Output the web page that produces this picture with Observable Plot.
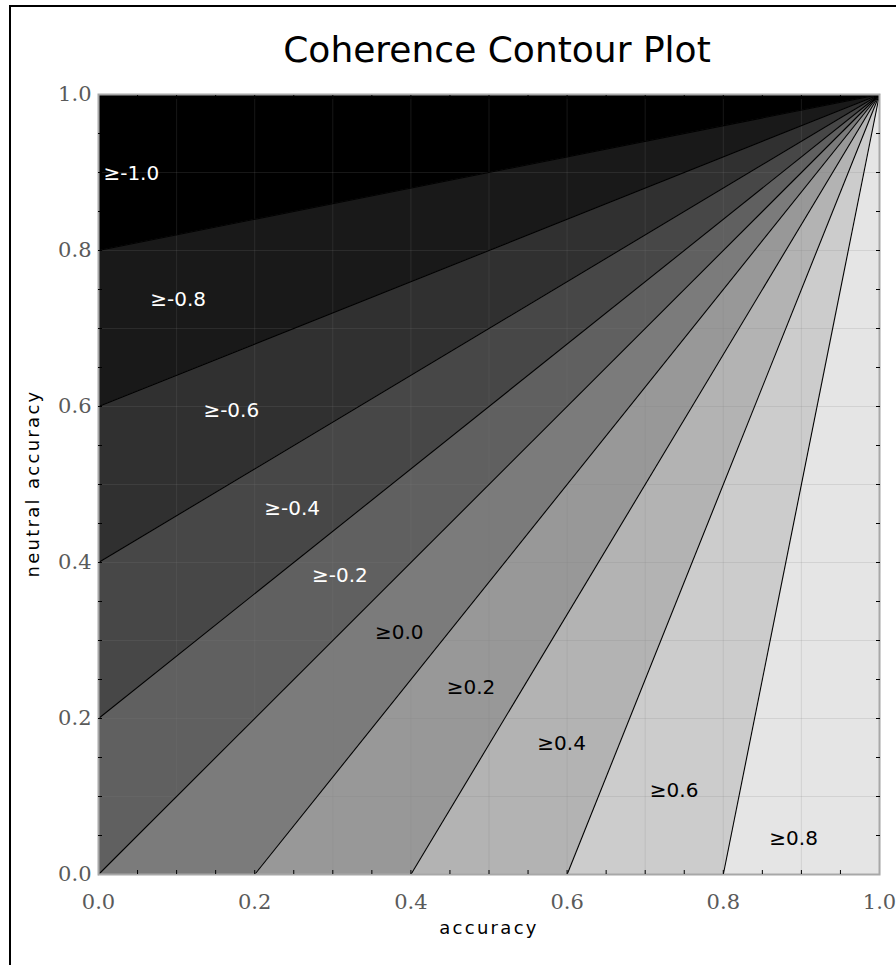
<!DOCTYPE html>
<html>
<head>
<meta charset="utf-8">
<script src="https://cdn.jsdelivr.net/npm/d3@7"></script>
<script src="https://cdn.jsdelivr.net/npm/@observablehq/plot@0.6"></script>
<style>
  body { margin: 0; background: #fff; overflow: hidden; }
  #wrap { position: relative; width: 896px; height: 965px; overflow: hidden; background: #fff; }
  #border { position: absolute; left: 9px; top: 5px; width: 950px; height: 1000px; border: 2px solid #000; box-sizing: border-box; pointer-events: none; }
  #title { position: absolute; left: 497px; top: 30px; transform: translateX(-50%); white-space: nowrap;
           font-family: "DejaVu Sans", sans-serif; font-size: 36px; line-height: 40px; color: #000; }
  #chart { position: absolute; left: 0; top: 70px; }
</style>
</head>
<body>
<div id="wrap">
  <div id="title">Coherence Contour Plot</div>
  <div id="chart"></div>
  <div id="border"></div>
</div>
<script>
// Contour levels (band lower bounds)
const levels = [-1.0, -0.8, -0.6, -0.4, -0.2, 0.0, 0.2, 0.4, 0.6, 0.8];
const labelText = ["≥-1.0", "≥-0.8", "≥-0.6", "≥-0.4", "≥-0.2", "≥0.0", "≥0.2", "≥0.4", "≥0.6", "≥0.8"];
// All contour lines meet at the apex (1,1); their other ends lie along the left and bottom edges
const apexX = 1.0;
const apexY = 1.0;
const edgeX = [0.0, 0.0, 0.0, 0.0, 0.0, 0.0, 0.2, 0.4, 0.6, 0.8, 1.0];
const edgeY = [1.0, 0.8, 0.6, 0.4, 0.2, 0.0, 0.0, 0.0, 0.0, 0.0, 0.0];
// Label anchor positions (data coordinates)
const labelX = [0.042, 0.102, 0.170, 0.248, 0.309, 0.385, 0.477, 0.593, 0.737, 0.890];
const labelY = [0.899, 0.737, 0.595, 0.469, 0.383, 0.310, 0.240, 0.168, 0.108, 0.046];
// Tick values
const majorTicks = [0.0, 0.2, 0.4, 0.6, 0.8, 1.0];
const gridTicks = [0.1, 0.2, 0.3, 0.4, 0.5, 0.6, 0.7, 0.8, 0.9];
const minorTicks = [0.05, 0.1, 0.15, 0.2, 0.25, 0.3, 0.35, 0.4, 0.45, 0.5, 0.55, 0.6, 0.65, 0.7, 0.75, 0.8, 0.85, 0.9, 0.95];
// Band fill colours
const bandColors = ["#000000", "#191919", "#303030", "#474747", "#606060", "#7b7b7b", "#989898", "#b3b3b3", "#cccccc", "#e5e5e5"];

const bands = levels.flatMap((lv, i) => [
  {level: lv, px: apexX, py: apexY},
  {level: lv, px: edgeX[i], py: edgeY[i]},
  {level: lv, px: edgeX[i + 1], py: edgeY[i + 1]}
]);
const lines = edgeX.map((x, i) => ({x2: x, y2: edgeY[i]})).slice(1, edgeX.length - 1);
const labels = labelText.map((t, i) => ({text: t, lx: labelX[i], ly: labelY[i], level: levels[i]}));

const tickFont = {fontFamily: "DejaVu Serif", fontSize: 21, fill: "#5a5a5a"};
const noText = {tickFormat: () => "", label: null, stroke: "#000"};
const titleFont = {fontSize: 18, fill: "#000"};

const chart = Plot.plot({
  width: 896,
  height: 895,
  marginTop: 24,
  marginBottom: 91,
  marginLeft: 98,
  marginRight: 17,
  style: {fontFamily: "DejaVu Sans", background: "transparent", overflow: "visible"},
  x: {domain: [0, 1], label: null},
  y: {domain: [0, 1], label: null},
  color: {type: "ordinal", domain: levels, range: bandColors},
  marks: [
    Plot.line(bands, {x: "px", y: "py", z: "level", fill: "level", stroke: "level", strokeWidth: 0.8, curve: "linear-closed"}),
    Plot.gridX(gridTicks, {stroke: "#808080", strokeOpacity: 0.18, strokeWidth: 1}),
    Plot.gridY(gridTicks, {stroke: "#808080", strokeOpacity: 0.18, strokeWidth: 1}),
    Plot.link(lines, {x1: () => apexX, y1: () => apexY, x2: "x2", y2: "y2", stroke: "#000", strokeWidth: 1.1}),
    Plot.text(labels.filter(d => d.level < 0), {x: "lx", y: "ly", text: "text", fill: "#ffffff", fontSize: 20}),
    Plot.text(labels.filter(d => d.level >= 0), {x: "lx", y: "ly", text: "text", fill: "#000000", fontSize: 20}),
    Plot.frame({stroke: "#a8a8a8", strokeWidth: 2}),
    Plot.axisX(minorTicks, {anchor: "bottom", tickSize: -4, ...noText}),
    Plot.axisX(minorTicks, {anchor: "top", tickSize: -4, ...noText}),
    Plot.axisY(minorTicks, {anchor: "left", tickSize: -4, ...noText}),
    Plot.axisY(minorTicks, {anchor: "right", tickSize: -4, ...noText}),
    Plot.axisX(majorTicks, {anchor: "bottom", tickSize: 0, tickPadding: 20, tickFormat: d => d.toFixed(1), label: null, ...tickFont}),
    Plot.axisY(majorTicks, {anchor: "left", tickSize: 0, tickPadding: 7, tickFormat: d => d.toFixed(1), label: null, ...tickFont}),
    Plot.text([0], {frameAnchor: "bottom", textAnchor: "middle", dy: 59, text: () => "accuracy", ...titleFont}),
    Plot.text([0], {frameAnchor: "left", textAnchor: "middle", dx: -65, dy: -1, rotate: -90, text: () => "neutral accuracy", ...titleFont})
  ]
});
// widen the axis titles' letter spacing to match the reference's wide UI font
chart.querySelectorAll("text").forEach(t => {
  if (t.textContent === "accuracy" || t.textContent === "neutral accuracy") t.style.letterSpacing = "2.3px";
});
document.getElementById("chart").appendChild(chart);
</script>
</body>
</html>
